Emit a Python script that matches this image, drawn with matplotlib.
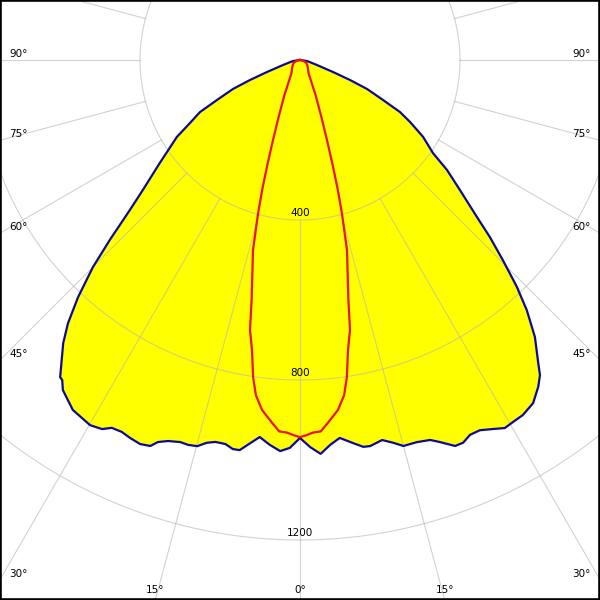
import numpy as np
import matplotlib
matplotlib.use('Agg')
import matplotlib.pyplot as plt

# ---- data (gamma in degrees, intensity in cd) ----
gamma_c0 = [0, 1.5, 3, 4.5, 6, 7.9, 9.3, 10.3, 12.2, 13.7, 15, 17, 18.9, 20.1, 21.9, 23.1, 24.4, 25.9,
            27.6, 29.1, 30.5, 32.1, 34.2, 36.1, 37.3, 38.2, 40.3, 42.2, 43.7, 45.4, 47, 48.4, 50.9,
            53.2, 55, 58, 60.6, 62.5, 64.3, 66.6, 68.2, 70, 73.6, 81.9, 90]
int_c0 = [945, 968, 986, 965, 950, 967, 980, 981, 972, 985, 999, 999, 1004, 1017, 1040, 1040, 1029, 1029,
          1041, 1053, 1050, 1048, 1037, 1011, 990, 963, 908, 844, 785, 712, 649, 592, 515,
          459, 406, 363, 316, 282, 230, 183, 135, 88, 44, 18, 0]

gamma_c180 = [0, 1.5, 2.9, 4.5, 6.1, 7.4, 8.8, 9.8, 11, 12.5, 13.7, 14.9, 16.2, 17.4, 19.1, 20.4, 21.2,
              22.6, 24.2, 25.6, 27.1, 28.2, 29.9, 33, 35.7, 36.6, 37.1, 39.9, 41.4, 43.1, 45, 46.6,
              48.6, 50.4, 53.7, 58, 60.2, 62.5, 64.3, 66.6, 68.2, 70, 73.6, 81.9, 90]
int_c180 = [945, 970, 979, 965, 948, 966, 987, 987, 978, 978, 985, 999, 1002, 1001, 1008, 1019, 1035,
            1040, 1036, 1031, 1033, 1047, 1053, 1043, 1016, 997, 994, 923, 877, 812, 732, 654,
            567, 510, 435, 363, 317, 282, 230, 183, 135, 88, 44, 18, 0]

gamma_c90 = [0, 1, 2, 3.2, 4.5, 6.2, 7.5, 8.4, 9.4, 10.5, 11.4, 13.9, 15.3, 16.3, 17.3, 18.5, 20.5,
             24, 33, 50, 65, 80, 90]
int_c90 = [943, 938, 932, 930, 908, 880, 845, 802, 735, 686, 612, 489, 397, 334, 274, 216, 154,
           95, 39, 25, 18, 8, 0]

ring_values = [400, 800, 1200, 1600]
ring_labels = ["400", "800", "1200"]
side_angles = [90, 75, 60, 45, 30]
bottom_angles = [-15, 0, 15]

# ---- layout ----
S = 0.4            # pixels per cd
CX, CY = 300, 60   # pole position in pixels
W = 600

fig = plt.figure(figsize=(6, 6), dpi=100)
ax = fig.add_axes([0, 0, 1, 1])
xmin, xmax = -CX / S, (W - CX) / S
ymin, ymax = -(W - CY) / S, CY / S
ax.set_xlim(xmin, xmax)
ax.set_ylim(ymin, ymax)
ax.set_aspect('equal')
ax.set_xticks([])
ax.set_yticks([])
for s in ax.spines.values():
    s.set_linewidth(2.6)
    s.set_color('black')
    s.set_zorder(10)


def to_xy(g, i, side):
    g = np.radians(np.asarray(g, float))
    i = np.asarray(i, float)
    return side * i * np.sin(g), -i * np.cos(g)


# blue curve (C0 / C180) with yellow fill
xl, yl = to_xy(gamma_c180, int_c180, -1)
xr, yr = to_xy(gamma_c0, int_c0, 1)
bx = np.concatenate([xl[::-1], xr])
by = np.concatenate([yl[::-1], yr])
ax.fill(bx, by, color='#ffff00', zorder=1, lw=0)

# grid
gcol = '#b4b4b4'
galpha = 0.6
t = np.linspace(0, 2 * np.pi, 1441)
for r in ring_values:
    ax.plot(r * np.cos(t), r * np.sin(t), color=gcol, lw=0.8, alpha=galpha, zorder=2)
for a in range(0, 360, 15):
    ar = np.radians(a)
    ax.plot([400 * np.sin(ar), 2500 * np.sin(ar)], [-400 * np.cos(ar), -2500 * np.cos(ar)],
            color=gcol, lw=0.8, alpha=galpha, zorder=2)

fs = 7.5
# ring labels
for r, lab in zip(ring_values, ring_labels):
    ax.text(0, -r + 1.5 / S, lab, ha='center', va='bottom', fontsize=fs, zorder=3)

# side angle labels
for a in side_angles:
    ymeet = -(-xmin) / np.tan(np.radians(a)) if a != 90 else 0.0
    ax.text(xmin + 9 / S, ymeet + 3 / S, f"{a}°", ha='left', va='baseline', fontsize=fs, zorder=3)
    ax.text(xmax - 9 / S, ymeet + 3 / S, f"{a}°", ha='right', va='baseline', fontsize=fs, zorder=3)
# bottom angle labels
for a in bottom_angles:
    xmeet = -ymin * np.tan(np.radians(a))
    ax.text(xmeet, ymin + 7 / S, f"{abs(a)}°", ha='center', va='baseline', fontsize=fs, zorder=3)

# curves
ax.plot(bx, by, color='#0a0a9a', lw=1.6, zorder=5, solid_joinstyle='round')
rxl, ryl = to_xy(gamma_c90, int_c90, -1)
rxr, ryr = to_xy(gamma_c90, int_c90, 1)
ax.plot(np.concatenate([rxl[::-1], rxr]), np.concatenate([ryl[::-1], ryr]),
        color='#ee1111', lw=1.6, zorder=6, solid_joinstyle='round')

fig.savefig('out.png', dpi=100)
